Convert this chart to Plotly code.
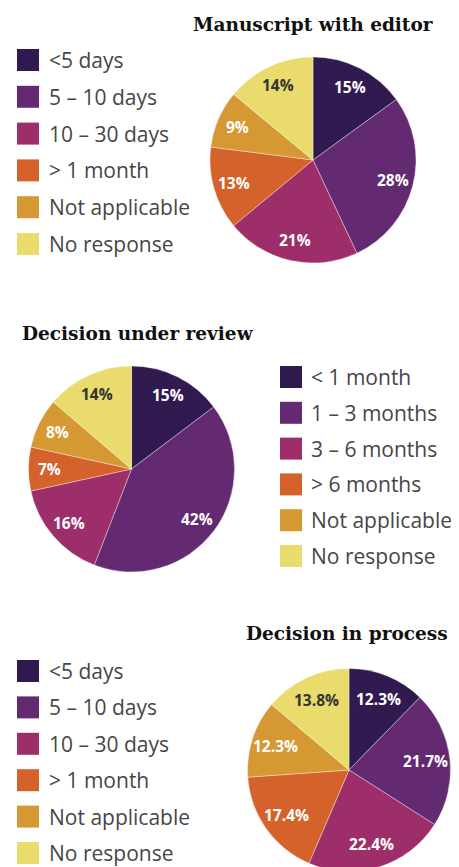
import math
import plotly.graph_objects as go

# ---- data ----
titles = ["Manuscript with editor", "Decision under review", "Decision in process"]

cats_editor = ["<5 days", "5 – 10 days", "10 – 30 days", "> 1 month", "Not applicable", "No response"]
vals_editor = [15, 28, 21, 13, 9, 14]

cats_review = ["< 1 month", "1 – 3 months", "3 – 6 months", "> 6 months", "Not applicable", "No response"]
vals_review = [15, 42, 16, 7, 8, 14]

cats_process = ["<5 days", "5 – 10 days", "10 – 30 days", "> 1 month", "Not applicable", "No response"]
vals_process = [12.3, 21.7, 22.4, 17.4, 12.3, 13.8]

colors = ["#311a50", "#632a72", "#9d2e69", "#d5622b", "#d69833", "#e9db6c"]
label_colors = ["#ffffff"] * 5 + ["#333333"]

# ---- layout constants (pixels in the reference window) ----
OFF = 8                     # page body margin of the browser
W, H = 459 - OFF, 880       # figure may spill past the bottom of the window
LEG_FONT = dict(family="Open Sans", size=21, color="#464646")
TITLE_FONT = dict(family="DejaVu Serif", size=18.5, color="#111111", weight="bold")
LABEL_FONT = dict(family="Open Sans", size=15.5, weight="bold")

# pie boxes: (left, top, size) in window pixels
pie_boxes = [(210, 57, 206), (28.5, 366, 206), (247.5, 668.5, 203)]
label_radius = [0.8, 0.8, 0.76]
# title centers
title_pos = [(313, 25), (138, 333), (347, 633)]
# legends: (swatch_left, first_center_y, step, text_gap)
legend_pos = [(17, 60, 36.8, 30), (280, 377, 35.8, 29), (17, 671, 36.4, 30)]

datasets = [(cats_editor, vals_editor), (cats_review, vals_review), (cats_process, vals_process)]


def px_x(x):
    return (x - OFF) / W


def px_y(y):
    return 1 - (y - OFF) / H


fig = go.Figure()
shapes = []
annotations = []

for i, (cats, vals) in enumerate(datasets):
    left, top, size = pie_boxes[i]
    fig.add_trace(go.Pie(
        labels=cats,
        values=vals,
        text=[f"{v:g}%" for v in vals],
        textinfo="none",
        hoverinfo="label+text",
        marker=dict(colors=colors, line=dict(color="rgba(255,255,255,0.6)", width=0.6)),
        sort=False,
        direction="clockwise",
        rotation=0,
        showlegend=False,
        domain=dict(x=[px_x(left), px_x(left + size)], y=[px_y(top + size), px_y(top)]),
    ))

    # slice labels placed along each slice's mid-angle, derived from the values
    cx, cy, r = left + size / 2, top + size / 2, size / 2
    total = sum(vals)
    cum = 0
    for j, v in enumerate(vals):
        mid = (cum + v / 2) / total * 2 * math.pi
        cum += v
        lx = cx + label_radius[i] * r * math.sin(mid)
        ly = cy - label_radius[i] * r * math.cos(mid)
        annotations.append(dict(
            text=f"{v:g}%", x=px_x(lx), y=px_y(ly), xref="paper", yref="paper",
            xanchor="center", yanchor="middle", showarrow=False,
            font=dict(LABEL_FONT, color=label_colors[j]),
        ))

    tx, ty = title_pos[i]
    annotations.append(dict(
        text=titles[i], x=px_x(tx), y=px_y(ty), xref="paper", yref="paper",
        xanchor="center", yanchor="middle", showarrow=False, font=TITLE_FONT,
    ))

    sl, sy, step, gap = legend_pos[i]
    for j, c in enumerate(cats):
        ry = sy + j * step
        shapes.append(dict(
            type="rect", xref="paper", yref="paper",
            x0=px_x(sl), x1=px_x(sl + 22),
            y0=px_y(ry + 11), y1=px_y(ry - 11),
            fillcolor=colors[j], line=dict(width=0),
        ))
        annotations.append(dict(
            text=c, x=px_x(sl + gap), y=px_y(ry), xref="paper", yref="paper",
            xanchor="left", yanchor="middle", showarrow=False, font=LEG_FONT,
        ))

fig.update_layout(
    width=W, height=H,
    margin=dict(l=0, r=0, t=0, b=0),
    paper_bgcolor="white",
    plot_bgcolor="white",
    shapes=shapes,
    annotations=annotations,
)

fig.write_html("out.html")
